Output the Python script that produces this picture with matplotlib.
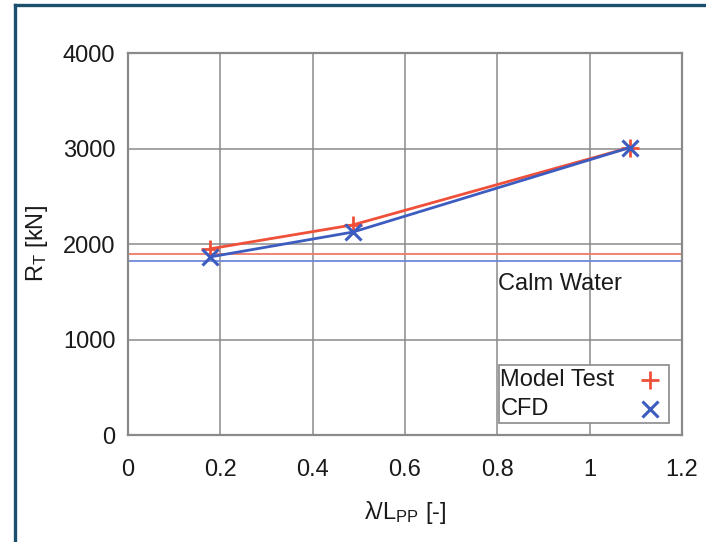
import matplotlib
matplotlib.use("Agg")
import matplotlib.pyplot as plt
from matplotlib.lines import Line2D
from matplotlib.patches import Rectangle

plt.rcParams['font.family'] = ['Liberation Sans', 'DejaVu Sans']
plt.rcParams['mathtext.fontset'] = 'custom'
plt.rcParams['mathtext.rm'] = 'Liberation Sans'

# data
wave_ratio = [0.178, 0.487, 1.087]
model_test = [1950, 2200, 3010]
cfd = [1865, 2125, 3010]
calm_model = 1895
calm_cfd = 1822
labels = ["Model Test", "CFD"]

red = "#f0503a"
blue = "#3d5cc0"
txt = "#1a1a1a"
fs = 17

fig = plt.figure(figsize=(7.06, 5.42), dpi=100)
ax = fig.add_axes([0.1813, 0.1974, 0.7847, 0.7048])

# calm water levels
ax.axhline(calm_model, color="#f07a68", lw=1.3, zorder=2)
ax.axhline(calm_cfd, color="#7088d8", lw=1.3, zorder=2)

ax.plot(wave_ratio, model_test, color=red, lw=2, marker="+", ms=13, mew=2, zorder=3)
ax.plot(wave_ratio, cfd, color=blue, lw=2, marker="x", ms=11, mew=2.2, zorder=4)

ax.text(0.936, 1580, "Calm Water", fontsize=fs, ha="center", va="center", color=txt)

ax.set_xlim(0, 1.2)
ax.set_ylim(0, 4000)
ax.set_xticks([0, 0.2, 0.4, 0.6, 0.8, 1.0, 1.2])
ax.set_xticklabels(["0", "0.2", "0.4", "0.6", "0.8", "1", "1.2"])
ax.set_yticks([0, 1000, 2000, 3000, 4000])
ax.tick_params(length=0, labelsize=fs, colors=txt)
ax.tick_params(axis="y", pad=9)
ax.tick_params(axis="x", pad=17)
ax.grid(True, color="#8a8a8a", lw=1.1)
ax.set_axisbelow(True)
for s in ax.spines.values():
    s.set_color("#8a8a8a")
    s.set_linewidth(1.6)

ax.set_xlabel(r"$\mathregular{\lambda/L_{PP}}$ [-]", fontsize=fs, labelpad=13, color=txt)
ax.set_ylabel(r"$\mathregular{R_T}$ [kN]", fontsize=fs, labelpad=9, color=txt)

# key in the gnuplot style: label on the left, sample on the right
ax.add_patch(Rectangle((0.670, 0.031), 0.307, 0.152, transform=ax.transAxes, fill=True,
                       facecolor="white", edgecolor="#8a8a8a", lw=1.2, zorder=5, clip_on=False))
rows = [0.144, 0.068]
ax.text(0.672, rows[0], labels[0], transform=ax.transAxes, fontsize=fs, va="center", color=txt, zorder=6)
ax.text(0.672, rows[1], labels[1], transform=ax.transAxes, fontsize=fs, va="center", color=txt, zorder=6)
ax.plot([0.942], [rows[0]], transform=ax.transAxes, color=red, marker="+", ms=13, mew=2, zorder=6, clip_on=False)
ax.plot([0.942], [rows[1]], transform=ax.transAxes, color=blue, marker="x", ms=11, mew=2.2, zorder=6, clip_on=False)

# outer frame on the left and top
fig.add_artist(Line2D([15 / 706, 15 / 706], [0, 1 - 5 / 542], color="#1b4f6e", lw=2.4,
                      transform=fig.transFigure))
fig.add_artist(Line2D([15 / 706, 1], [1 - 5 / 542, 1 - 5 / 542], color="#1b4f6e", lw=2.4,
                      transform=fig.transFigure))

fig.savefig("out.png", dpi=100)
